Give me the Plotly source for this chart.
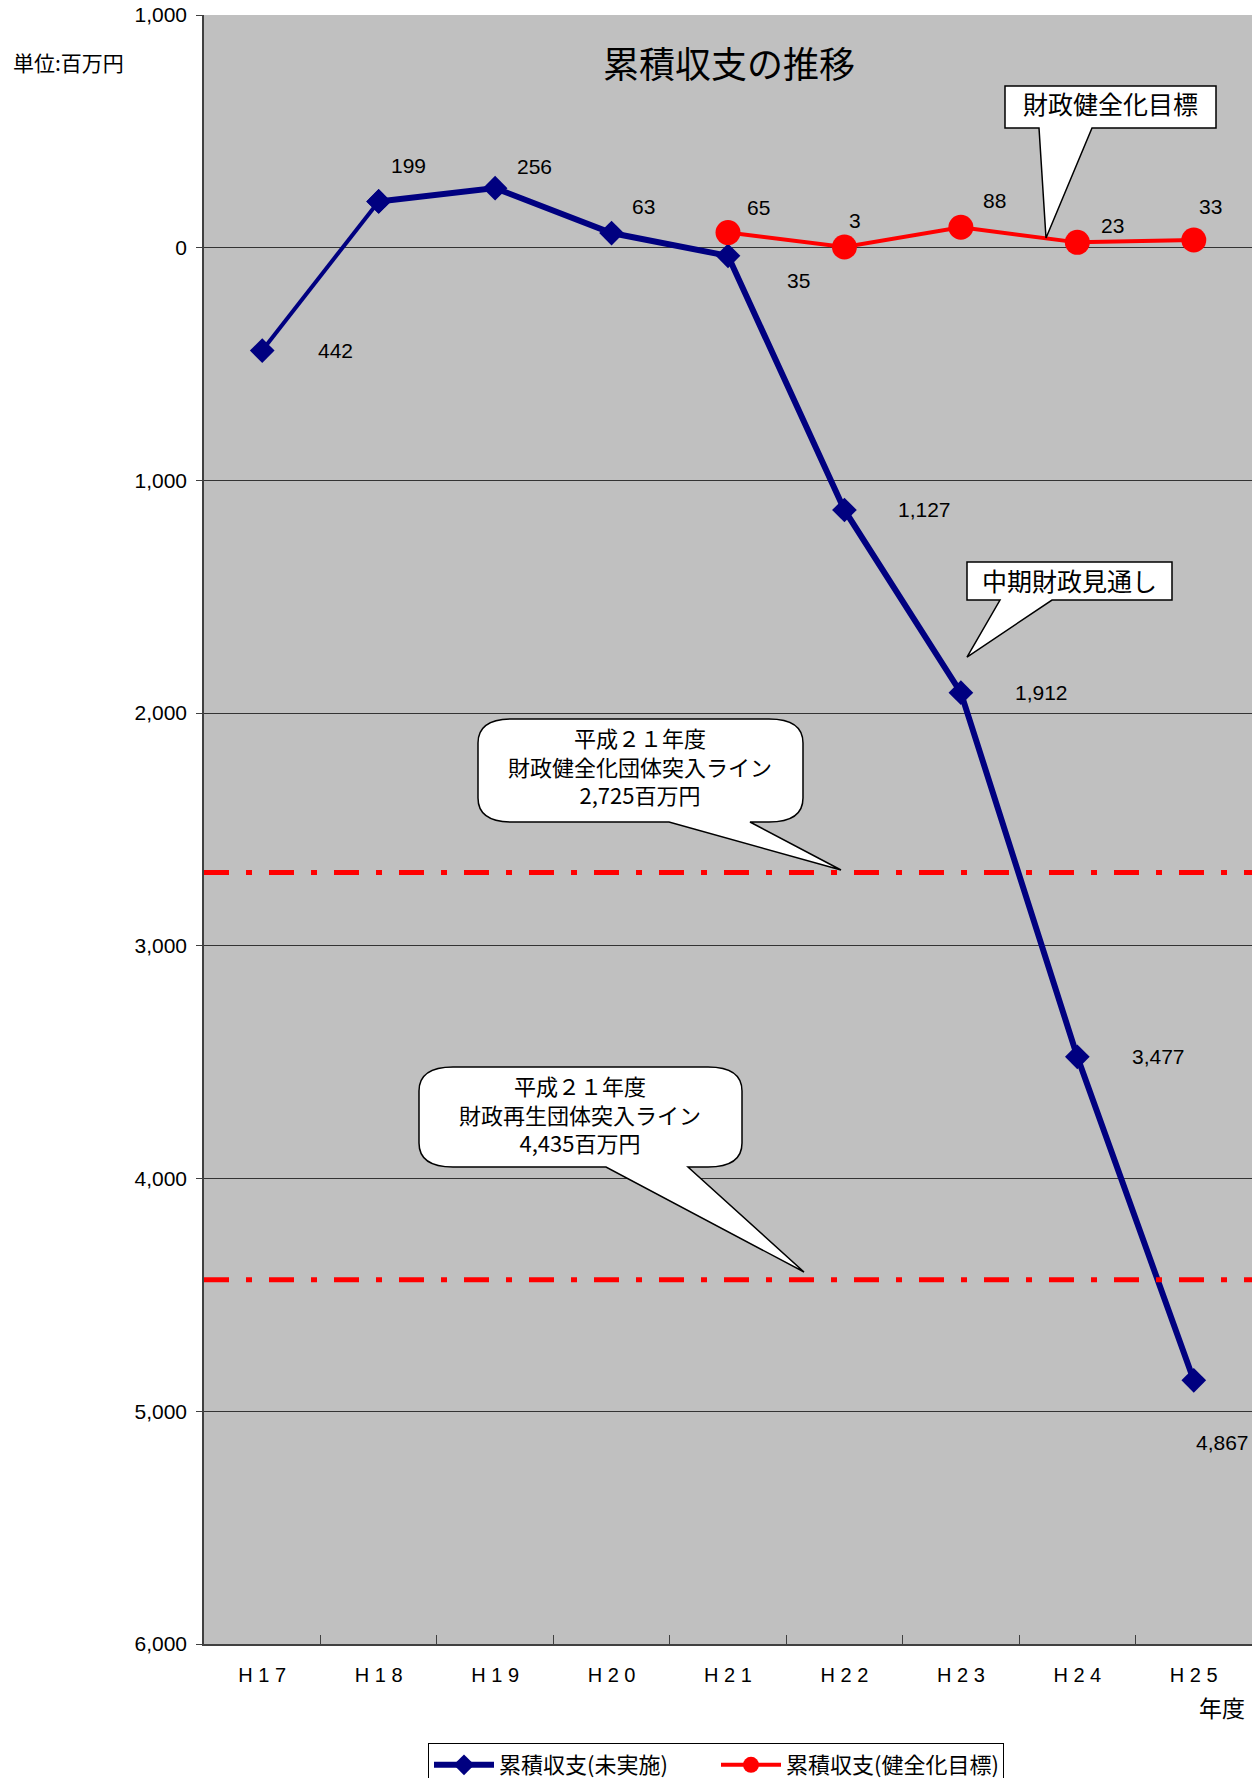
import plotly.graph_objects as go

# ---------------- data ----------------
years = ["H17", "H18", "H19", "H20", "H21", "H22", "H23", "H24", "H25"]
year_labels = ["H 1 7", "H 1 8", "H 1 9", "H 2 0", "H 2 1", "H 2 2", "H 2 3", "H 2 4", "H 2 5"]
# cumulative balance (surplus positive, deficit negative), million yen
balance_plan = [-442, 199, 256, 63, -35, -1127, -1912, -3477, -4867]
target_years = ["H21", "H22", "H23", "H24", "H25"]
balance_target = [65, 3, 88, 23, 33]
# threshold lines as drawn (deficit levels)
line_levels = [2685, 4435]
y_ticks = [1000, 0, -1000, -2000, -3000, -4000, -5000, -6000]

# ---------------- geometry helpers ----------------
W_FIG, H_FIG = 1259, 1778
L, R, T, B = 204, 1252, 15, 1644
PW, PH = R - L, B - T


def px(x):
    return (x - L) / PW


def py(y):
    return (B - y) / PH


def P(x, y):
    return f"{px(x):.5f},{py(y):.5f}"


def round_callout(x0, y0, x1, y1, bx0, bx1, tx, ty, rx=34, ry=24):
    return (f"M {P(x0 + rx, y0)} L {P(x1 - rx, y0)} Q {P(x1, y0)} {P(x1, y0 + ry)} "
            f"L {P(x1, y1 - ry)} Q {P(x1, y1)} {P(x1 - rx, y1)} "
            f"L {P(bx1, y1)} L {P(tx, ty)} L {P(bx0, y1)} "
            f"L {P(x0 + rx, y1)} Q {P(x0, y1)} {P(x0, y1 - ry)} "
            f"L {P(x0, y0 + ry)} Q {P(x0, y0)} {P(x0 + rx, y0)} Z")


def rect_callout(x0, y0, x1, y1, bx0, bx1, tx, ty):
    return (f"M {P(x0, y0)} L {P(x1, y0)} L {P(x1, y1)} L {P(bx1, y1)} "
            f"L {P(tx, ty)} L {P(bx0, y1)} L {P(x0, y1)} Z")


NUM_FONT = "Liberation Sans, Arial, Noto Sans CJK JP"
JP_FONT = "Noto Sans CJK JP"
NAVY = "#000080"
RED = "#FF0000"

fig = go.Figure()

# first (thinner) segment of planned series
fig.add_trace(go.Scatter(
    x=years[:2], y=balance_plan[:2], mode="lines+markers",
    line=dict(color=NAVY, width=4),
    marker=dict(symbol="diamond", size=19, color=NAVY),
    showlegend=False, hoverinfo="skip"))
fig.add_trace(go.Scatter(
    x=years[1:], y=balance_plan[1:], mode="lines+markers",
    name="累積収支(未実施)",
    line=dict(color=NAVY, width=6),
    marker=dict(symbol="diamond", size=19, color=NAVY)))
fig.add_trace(go.Scatter(
    x=target_years, y=balance_target, mode="lines+markers",
    name="累積収支(健全化目標)",
    line=dict(color=RED, width=4),
    marker=dict(symbol="circle", size=25, color=RED)))

# data labels (text from the arrays; offsets are style)
plan_off = [(73, 0), (30, 36), (39, 22), (32, 27), (70, -25), (80, 0), (81, 0), (81, 0), (29, -62)]
target_off = [(30, 25), (11, 27), (34, 27), (35, 17), (17, 34)]
ann = []
for x, v, (dx, dy) in zip(years, balance_plan, plan_off):
    ann.append(dict(x=x, y=v, xref="x", yref="y", text=f"{abs(v):,}", showarrow=False,
                    xshift=dx, yshift=dy, font=dict(family=NUM_FONT, size=21, color="black")))
for x, v, (dx, dy) in zip(target_years, balance_target, target_off):
    ann.append(dict(x=x, y=v, xref="x", yref="y", text=f"{abs(v):,}", showarrow=False,
                    xshift=dx, yshift=dy, font=dict(family=NUM_FONT, size=21, color="black")))

# threshold dash-dot lines
shapes = []
for lv in line_levels:
    shapes.append(dict(type="line", xref="paper", yref="y", x0=0, x1=1, y0=-lv, y1=-lv,
                       line=dict(color=RED, width=5, dash="25px,17px,6px,17px"), layer="above"))

# callouts
shapes.append(dict(type="path", xref="paper", yref="paper",
                   path=rect_callout(1005, 86, 1216, 128, 1039, 1092, 1046, 238),
                   fillcolor="white", line=dict(color="black", width=1.5)))
shapes.append(dict(type="path", xref="paper", yref="paper",
                   path=rect_callout(967, 562, 1172, 600, 1000, 1052, 967, 657),
                   fillcolor="white", line=dict(color="black", width=1.5)))
shapes.append(dict(type="path", xref="paper", yref="paper",
                   path=round_callout(478, 719, 803, 822, 669, 750, 841, 870),
                   fillcolor="white", line=dict(color="black", width=1.5)))
shapes.append(dict(type="path", xref="paper", yref="paper",
                   path=round_callout(419, 1067, 742, 1167, 606, 688, 804, 1272),
                   fillcolor="white", line=dict(color="black", width=1.5)))


def text_px(x, y, text, size, family=JP_FONT, xanchor="center"):
    ann.append(dict(x=px(x), y=py(y), xref="paper", yref="paper", text=text, showarrow=False,
                    xanchor=xanchor, yanchor="middle",
                    font=dict(family=family, size=size, color="black")))


text_px(1110, 103, "財政健全化目標", 25)
text_px(1069, 580, "中期財政見通し", 25)
text_px(640, 765, "平成２１年度<br>財政健全化団体突入ライン<br>2,725百万円", 22)
text_px(580, 1113, "平成２１年度<br>財政再生団体突入ライン<br>4,435百万円", 22)
text_px(729, 62, "累積収支の推移", 36)
text_px(68, 62, "単位:百万円", 21)
text_px(1222, 1707, "年度", 23)

fig.update_layout(
    width=W_FIG, height=H_FIG,
    margin=dict(l=L, r=W_FIG - R, t=T, b=H_FIG - B, autoexpand=False),
    paper_bgcolor="white", plot_bgcolor="#C0C0C0",
    annotations=ann, shapes=shapes,
    showlegend=True,
    legend=dict(orientation="h", x=px(428), y=py(1743), xanchor="left", yanchor="top",
                bgcolor="white", bordercolor="black", borderwidth=1,
                font=dict(family=JP_FONT, size=22, color="black"),
                itemwidth=60, entrywidth=212, tracegroupgap=0),
)
fig.update_xaxes(
    type="category", categoryorder="array", categoryarray=years,
    tickvals=years, ticktext=year_labels, range=[-0.5, 8.5],
    tickson="boundaries", ticks="inside", ticklen=9, tickcolor="#404040",
    showgrid=False, showline=True, linecolor="#404040", linewidth=1.5,
    tickfont=dict(family=NUM_FONT, size=20, color="black"), ticklabelstandoff=12,
    zeroline=False, fixedrange=True)
fig.update_yaxes(
    range=[-6000, 1000], tickvals=y_ticks, ticktext=[f"{abs(v):,}" for v in y_ticks],
    ticks="outside", ticklen=6, tickcolor="#404040",
    showgrid=True, gridcolor="#333333", gridwidth=1,
    showline=True, linecolor="#404040", linewidth=1.5,
    zeroline=False, ticklabelstandoff=5,
    tickfont=dict(family=NUM_FONT, size=21, color="black"),
    fixedrange=True)

fig.write_html("out.html")
